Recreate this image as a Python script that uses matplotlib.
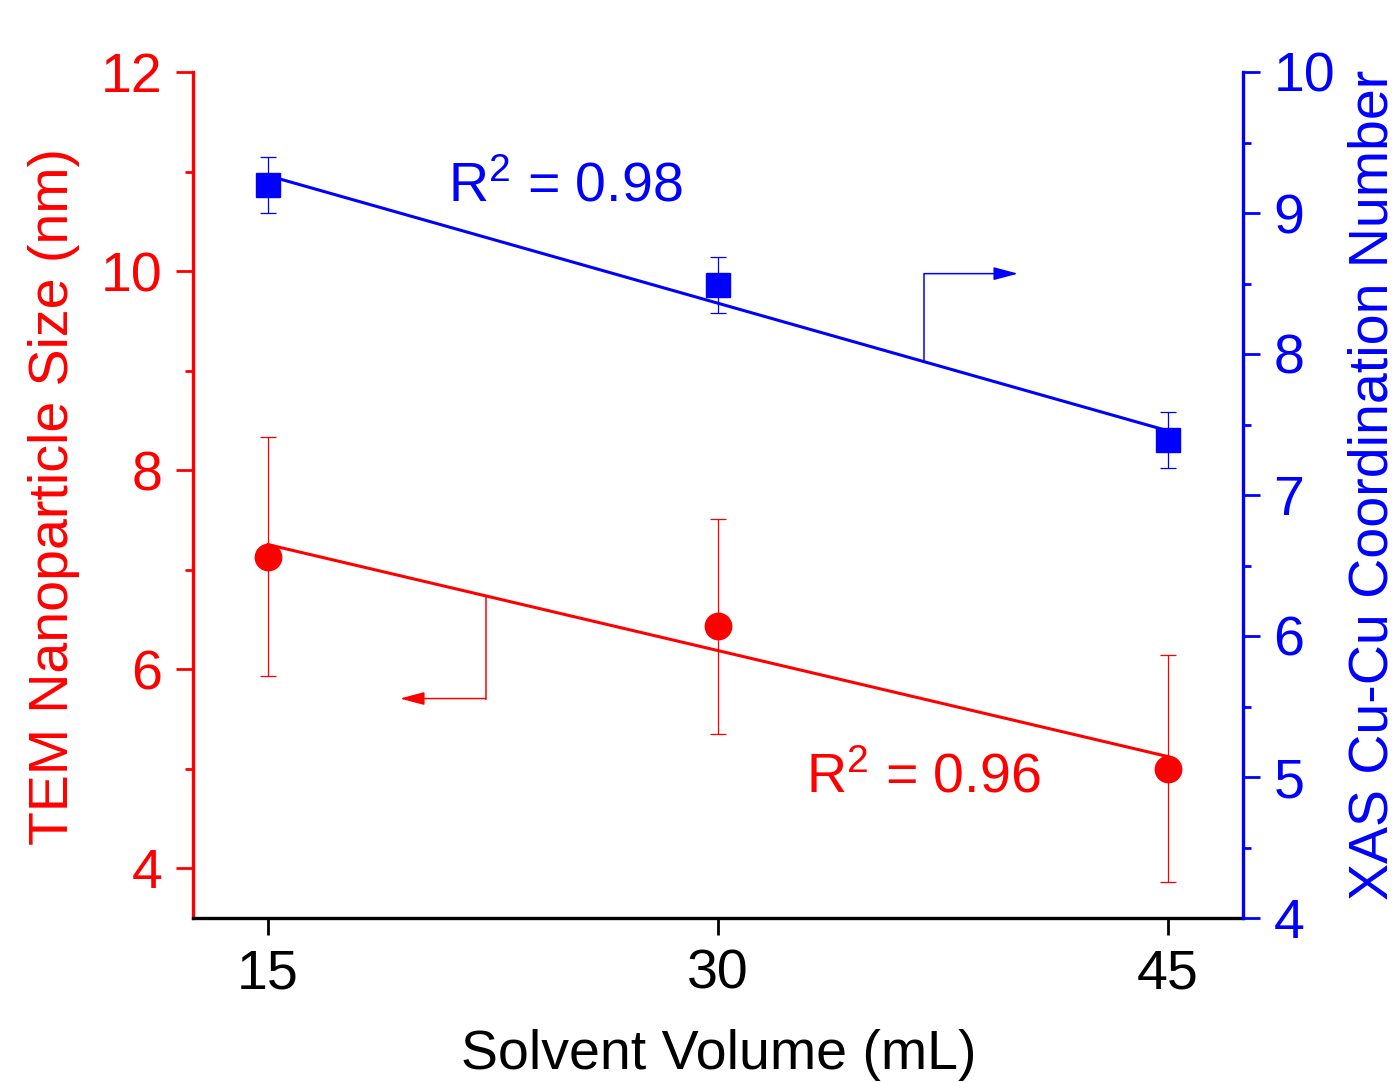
import numpy as np
import matplotlib
matplotlib.use("Agg")
import matplotlib.pyplot as plt

plt.rcParams['font.family'] = ['Liberation Sans', 'DejaVu Sans']
plt.rcParams['mathtext.fontset'] = 'custom'
plt.rcParams['mathtext.rm'] = 'Liberation Sans'
plt.rcParams['mathtext.it'] = 'Liberation Sans:italic'
plt.rcParams['mathtext.bf'] = 'Liberation Sans:bold'

# Data
volume = [15, 30, 45]
tem_size = [7.13, 6.43, 5.00]
tem_err = [1.20, 1.08, 1.14]
cn = [9.20, 8.49, 7.39]
cn_err = [0.20, 0.20, 0.20]
xticks = [15, 30, 45]
left_ticks = [4, 6, 8, 10, 12]
right_ticks = [4, 5, 6, 7, 8, 9, 10]

RED = '#ff0000'
BLUE = '#0000ff'
FS = 40

fig = plt.figure(figsize=(14, 10.83), dpi=100)
ax = fig.add_axes([193/1400, 1-918/1083, 1050/1400, 846/1083])
ax2 = ax.twinx()

# Fits
x = np.array(volume, dtype=float)
p_red = np.polyfit(x, tem_size, 1)
p_blue = np.polyfit(x, cn, 1)
xf = np.array([x.min(), x.max()])
ax.plot(xf, np.polyval(p_red, xf), color=RED, lw=2.2, zorder=2)
ax2.plot(xf, np.polyval(p_blue, xf), color=BLUE, lw=2.2, zorder=2)

ax.errorbar(volume, tem_size, yerr=tem_err, fmt='o', color=RED, ms=19,
            ecolor=RED, elinewidth=0.9, capsize=6, capthick=0.9, zorder=3)
ax2.errorbar(volume, cn, yerr=cn_err, fmt='s', color=BLUE, ms=17.5,
             ecolor=BLUE, elinewidth=0.9, capsize=6, capthick=0.9, zorder=3)

# Arrows
rx = 22.26
ry0 = np.polyval(p_red, rx)
ax.plot([rx, rx], [ry0, 5.705], color=RED, lw=1.1)
ax.annotate('', xy=(19.4, 5.705), xytext=(rx, 5.705),
            arrowprops=dict(arrowstyle='-|>,head_length=0.6,head_width=0.16',
                            mutation_scale=25, color=RED, lw=1.1,
                            shrinkA=0, shrinkB=0))
bx = 36.88
by0 = np.polyval(p_blue, bx)
ax2.plot([bx, bx], [by0, 8.57], color=BLUE, lw=1.1)
ax2.annotate('', xy=(40.0, 8.57), xytext=(bx, 8.57),
             arrowprops=dict(arrowstyle='-|>,head_length=0.6,head_width=0.16',
                             mutation_scale=25, color=BLUE, lw=1.1,
                             shrinkA=0, shrinkB=0))

# R^2 texts
ax.text(32.93, 4.763, r'R$^2$ = 0.96', color=RED, fontsize=FS,
        ha='left', va='baseline')
ax2.text(21.0, 9.085, r'R$^2$ = 0.98', color=BLUE, fontsize=FS,
         ha='left', va='baseline')

# Axes limits / ticks
ax.set_xlim(12.5, 47.5)
ax.set_ylim(3.5, 12)
ax2.set_ylim(4, 10)
ax.set_xticks(xticks)
ax.set_yticks(left_ticks)
ax.set_yticks([5, 7, 9, 11], minor=True)
ax2.set_yticks(right_ticks)
ax2.set_yticks([4.5, 5.5, 6.5, 7.5, 8.5, 9.5], minor=True)

for a in (ax, ax2):
    a.spines['top'].set_visible(False)
ax.spines['right'].set_visible(False)
ax2.spines['left'].set_visible(False)
ax2.spines['bottom'].set_visible(False)
ax.spines['left'].set_color(RED)
ax.spines['left'].set_linewidth(2.4)
ax.spines['bottom'].set_color('black')
ax.spines['bottom'].set_linewidth(2.4)
ax2.spines['right'].set_color(BLUE)
ax2.spines['right'].set_linewidth(2.4)

ax.tick_params(axis='x', which='major', direction='out', length=12, width=2,
               color='black', labelsize=FS, pad=10)
ax.tick_params(axis='y', which='major', direction='out', length=12, width=2,
               color=RED, labelcolor=RED, labelsize=FS, pad=10)
ax.tick_params(axis='y', which='minor', direction='out', length=6, width=2,
               color=RED)
ax2.tick_params(axis='y', which='major', direction='out', length=12, width=2,
                color=BLUE, labelcolor=BLUE, labelsize=FS, pad=10)
ax2.tick_params(axis='y', which='minor', direction='out', length=6, width=2,
                color=BLUE)

fig.text(54/1400, 1-496/1083, 'TEM Nanoparticle Size (nm)', rotation=90,
         color=RED, fontsize=FS, ha='center', va='center')
fig.text(1374/1400, 1-485/1083, 'XAS Cu-Cu Coordination Number', rotation=90,
         color=BLUE, fontsize=FS, ha='center', va='center')
fig.text(719/1400, 1-1029/1083, 'Solvent Volume (mL)', color='black',
         fontsize=FS, ha='center', va='top')

fig.savefig('out.png', dpi=100)
